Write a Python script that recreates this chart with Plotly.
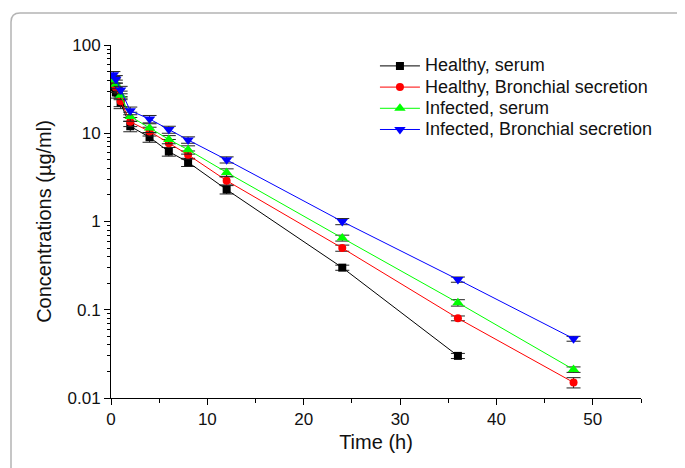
import plotly.graph_objects as go

time_h = [0.25, 0.5, 1, 2, 4, 6, 8, 12, 24, 36, 48]
time_hs = [0.25, 0.5, 1, 2, 4, 6, 8, 12, 24, 36]

healthy_serum = [33, 29, 22, 12, 9.0, 6.2, 4.7, 2.3, 0.30, 0.030]
healthy_serum_err = [4, 4, 3, 1.6, 1.1, 0.7, 0.5, 0.25, 0.02, 0.002]

healthy_bronch = [37, 33, 23, 13.5, 10.5, 7.7, 5.7, 2.9, 0.50, 0.080, 0.015]
healthy_bronch_err = [4, 4, 3, 1.6, 1.2, 0.8, 0.6, 0.3, 0.04, 0.005, 0.002]

infected_serum = [40, 36, 27, 15.5, 11.5, 8.5, 6.5, 3.6, 0.65, 0.12, 0.021]
infected_serum_err = [4, 4, 3, 1.8, 1.3, 0.9, 0.7, 0.35, 0.05, 0.01, 0.0015]

infected_bronch = [46, 41, 31, 18, 14.5, 11, 8.4, 5.0, 1.0, 0.22, 0.047]
infected_bronch_err = [4, 4, 3, 1.8, 1.4, 1.0, 0.7, 0.4, 0.08, 0.015, 0.003]

names = ["Healthy, serum", "Healthy, Bronchial secretion",
         "Infected, serum", "Infected, Bronchial secretion"]
colors = ["#000000", "#ff0000", "#00ff00", "#0000ff"]
symbols = ["square", "circle", "triangle-up", "triangle-down"]
sizes = [8, 8, 10, 10]

series = [
    (time_hs, healthy_serum, healthy_serum_err),
    (time_h, healthy_bronch, healthy_bronch_err),
    (time_h, infected_serum, infected_serum_err),
    (time_h, infected_bronch, infected_bronch_err),
]

fig = go.Figure()
for (x, y, e), name, c, s, sz in zip(series, names, colors, symbols, sizes):
    fig.add_trace(go.Scatter(
        x=x, y=y, mode="lines+markers",
        name=f'<span style="font-size:18px">{name}</span>',
        line=dict(color=c, width=1),
        marker=dict(symbol=s, size=sz, color=c),
        error_y=dict(type="data", array=e, visible=True, color="#222222",
                     thickness=1, width=7),
    ))

font_family = "Liberation Sans, Arial, sans-serif"

y_ticks = [0.01, 0.1, 1, 10, 100]
y_ticktext = ["0.01", "0.1", "1", "10", "100"]
y_minor = [m * 10 ** d for d in range(-2, 2) for m in range(2, 10)]

fig.update_layout(
    width=685, height=468,
    margin=dict(l=103, r=52, t=37, b=78),
    paper_bgcolor="white", plot_bgcolor="white",
    font=dict(family=font_family, size=17, color="#111111"),
    showlegend=True,
    legend=dict(x=0.498, y=0.985, xanchor="left", yanchor="top",
                bgcolor="rgba(0,0,0,0)", font=dict(size=14),
                tracegroupgap=0, itemwidth=40),
    xaxis=dict(
        range=[0, 55], tickvals=[0, 10, 20, 30, 40, 50],
        ticks="outside", ticklen=6, tickcolor="black",
        showline=True, linecolor="black", linewidth=1,
        showgrid=False, zeroline=False, automargin=False,
        minor=dict(tickvals=[5, 15, 25, 35, 45, 55], ticks="outside",
                   ticklen=4, tickcolor="black"),
        title=dict(text="Time (h)", standoff=6, font=dict(size=20)),
    ),
    yaxis=dict(
        type="log", range=[-2, 2], tickvals=y_ticks, ticktext=y_ticktext,
        ticks="outside", ticklen=6, tickcolor="black",
        showline=True, linecolor="black", linewidth=1,
        showgrid=False, zeroline=False, automargin=False,
        minor=dict(tickvals=y_minor, ticks="outside", ticklen=3,
                   tickcolor="black"),
        title=dict(text="Concentrations (µg/ml)", standoff=10,
                   font=dict(size=20)),
    ),
)

# rounded frame around the figure (top-left corner visible)
pw, ph = 530.0, 353.0
def px(xp):
    return (xp - 111) / pw
def py(yp):
    return (398 - yp) / ph
r = 9
path = (f"M {px(700)} {py(13)} L {px(11 + r)} {py(13)} "
        f"Q {px(11)} {py(13)} {px(11)} {py(13 + r)} "
        f"L {px(11)} {py(490)} L {px(700)} {py(490)} Z")
fig.add_shape(type="path", path=path, xref="paper", yref="paper",
              line=dict(color="#b4b4b4", width=1.5), layer="below")

fig.write_html("out.html")
